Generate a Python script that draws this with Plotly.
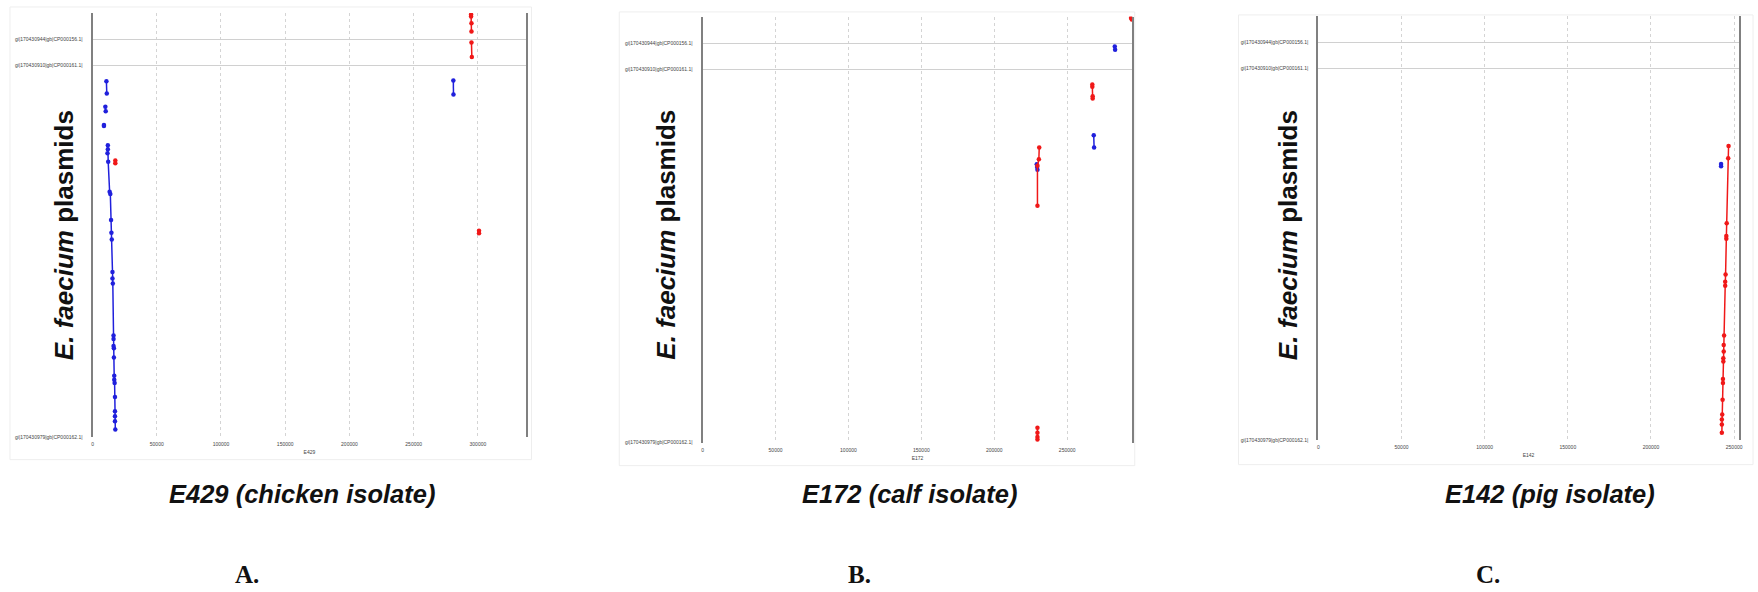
import plotly.graph_objects as go

W, H = 1758, 592

# ---------------- data ----------------
Y_TICK_VALS = [0, 877, 937, 1000]
Y_TICK_TEXT = ["gi|170430979|gb|CP000162.1|", "gi|170430910|gb|CP000161.1|",
               "gi|170430944|gb|CP000156.1|", ""]

A_X_TICKS = [0, 50000, 100000, 150000, 200000, 250000, 300000]
B_X_TICKS = [0, 50000, 100000, 150000, 200000, 250000]
C_X_TICKS = [0, 50000, 100000, 150000, 200000, 250000]
A_X_MAX, B_X_MAX, C_X_MAX = 337700, 294700, 252700

# Panel A: E429
A_REV_X = [10800, 11080, None, 9970, 10250, None, 8860, 8860, None,
           11910, 11910, 11640, 12190, 13300, 13850, 14410, 14690, 14960, 15520, 15520, 15790,
           16350, 16350, 16350, 16620, 16620, 16900, 16900, 17180, 17460, 17460, 17460, 17460, 17730,
           None, 280900, 281000]
A_REV_Y = [838.8, 809.9, None, 778.6, 768.3, None, 735.5, 733.5, None,
           687.8, 678.4, 669.0, 648.6, 578.2, 572.8, 511.7, 481.2, 465.5, 388.9, 373.2, 361.5,
           238.7, 230.8, 214.3, 208.9, 187.1, 143.9, 134.5, 126.8, 93.9, 60.3, 48.6, 36.8, 17.1,
           None, 840.4, 807.5]
A_FWD_X = [294700, 294700, 295000, 295000, None, 295000, 295300, None,
           17730, 17730, None, 300900, 300900]
A_FWD_Y = [996.0, 991.4, 975.8, 956.3, None, 930.3, 896.0, None,
           652.0, 645.5, None, 486.0, 480.0]

# Panel B: E172
B_REV_X = [282620, 282860, None, 268200, 268440, None, 229120, 229360, 229610]
B_REV_Y = [930.0, 922.0, None, 721.5, 692.7, None, 653.7, 647.0, 640.4]
B_FWD_X = [293800, 294300, None, 267230, 267230, 267470, 267470, None,
           230830, 230580, 229610, 229610, None, 229610, 229610, 229610, 229610]
B_FWD_Y = [997.0, 993.0, None, 840.5, 835.2, 813.2, 807.8, None,
           692.7, 665.4, 649.8, 556.4, None, 35.0, 23.3, 13.2, 7.7]

# Panel C: E142
C_REV_X = [242150, 242150]
C_REV_Y = [651.0, 646.0]
C_FWD_X = [246640, 246420, 245520, 245290, 245290, 244840, 244620, 244620, 243940, 243720,
           243720, 243490, 243490, 243270, 243270, 243050, 242820, 242600, 242600, 242600]
C_FWD_Y = [693.7, 664.9, 511.8, 481.4, 475.0, 390.7, 373.6, 364.2, 247.0, 225.0,
           209.5, 193.8, 186.1, 144.6, 135.2, 96.1, 60.9, 49.2, 37.5, 18.0]

X_TITLES = ["E429", "E172", "E142"]
PANEL_TITLES = ["E429 (chicken isolate)", "E172 (calf isolate)", "E142 (pig isolate)"]
PANEL_LETTERS = ["A.", "B.", "C."]
Y_LABEL = "<i>E. faecium</i> plasmids"

# ---------------- layout geometry (pixels) ----------------
panels = [
    dict(l=91.8, r=526.8, t=13.0, b=439.0, xmax=A_X_MAX, ticks=A_X_TICKS,
         rev=(A_REV_X, A_REV_Y), fwd=(A_FWD_X, A_FWD_Y), ylab_x=62.5, title_x=302, letter_x=247,
         box=(9, 7, 532, 462)),
    dict(l=703.6, r=1134.6, t=16.7, b=445.0, xmax=B_X_MAX, ticks=B_X_TICKS,
         rev=(B_REV_X, B_REV_Y), fwd=(B_FWD_X, B_FWD_Y), ylab_x=666.8, title_x=911, letter_x=861,
         box=(620, 12, 1137, 468)),
    dict(l=1321.1, r=1742.6, t=16.0, b=442.7, xmax=C_X_MAX, ticks=C_X_TICKS,
         rev=(C_REV_X, C_REV_Y), fwd=(C_FWD_X, C_FWD_Y), ylab_x=1290, title_x=1553, letter_x=1491,
         box=(1241, 15, 1757, 467)),
]

RED = "#f01818"
BLUE = "#2020dc"

fig = go.Figure()
layout = dict(
    width=W, height=H, margin=dict(l=0, r=0, t=0, b=0),
    paper_bgcolor="white", plot_bgcolor="white", showlegend=False,
    font=dict(family="Liberation Sans, Arial, sans-serif", color="#222"),
)
annotations = []
shapes = []

for i, p in enumerate(panels):
    n = "" if i == 0 else str(i + 1)
    xref = "x" + n
    yref = "y" + n
    for (xs, ys), col in ((p["rev"], BLUE), (p["fwd"], RED)):
        fig.add_trace(go.Scatter(
            x=xs, y=ys, xaxis=xref, yaxis=yref, mode="lines+markers",
            line=dict(color=col, width=1.5), marker=dict(color=col, size=4.5),
            connectgaps=False, hoverinfo="skip"))
    layout["xaxis" + n] = dict(
        domain=[p["l"] / W, p["r"] / W], anchor=yref, range=[0, p["xmax"]],
        tickvals=p["ticks"], ticktext=[str(v) for v in p["ticks"]],
        tickfont=dict(size=5, color="#444"), ticks="", ticklabelstandoff=3,
        showgrid=True, gridcolor="#d4d4d4", griddash="dot", gridwidth=1,
        zeroline=False, showline=False,
        title=dict(text=X_TITLES[i], font=dict(size=5, color="#444"), standoff=4),
    )
    layout["yaxis" + n] = dict(
        domain=[1 - p["b"] / H, 1 - p["t"] / H], anchor=xref, range=[0, 1000],
        tickvals=Y_TICK_VALS, ticktext=Y_TICK_TEXT,
        tickfont=dict(size=5, color="#444"), ticks="", ticklabelstandoff=7,
        showgrid=True, gridcolor="#d0d0d0", griddash="solid", gridwidth=1,
        zeroline=False, showline=True, linecolor="#808080", linewidth=2, mirror=True,
    )
    # faint border of the original sub-image
    bx0, by0, bx1, by1 = p["box"]
    shapes.append(dict(type="rect", xref="paper", yref="paper",
                       x0=bx0 / W, x1=bx1 / W, y0=1 - by1 / H, y1=1 - by0 / H,
                       line=dict(color="#eeeeee", width=1), layer="below"))
    annotations.append(dict(
        text="<b>" + Y_LABEL + "</b>", textangle=-90, showarrow=False,
        xref="paper", yref="paper", x=p["ylab_x"] / W, y=1 - 236 / H,
        xanchor="center", yanchor="middle",
        font=dict(size=26, family="Liberation Sans, Arial, sans-serif", color="#111")))
    annotations.append(dict(
        text="<b><i>" + PANEL_TITLES[i] + "</i></b>", showarrow=False,
        xref="paper", yref="paper", x=p["title_x"] / W, y=1 - 497 / H,
        xanchor="center", yanchor="middle",
        font=dict(size=25.5, family="Liberation Sans, Arial, sans-serif", color="#111")))
    annotations.append(dict(
        text="<b>" + PANEL_LETTERS[i] + "</b>", showarrow=False,
        xref="paper", yref="paper", x=p["letter_x"] / W, y=1 - 577 / H,
        xanchor="center", yanchor="middle",
        font=dict(size=25, family="Liberation Serif, Times New Roman, serif", color="#111")))

layout["annotations"] = annotations
layout["shapes"] = shapes
fig.update_layout(**layout)
fig.write_html("out.html")
